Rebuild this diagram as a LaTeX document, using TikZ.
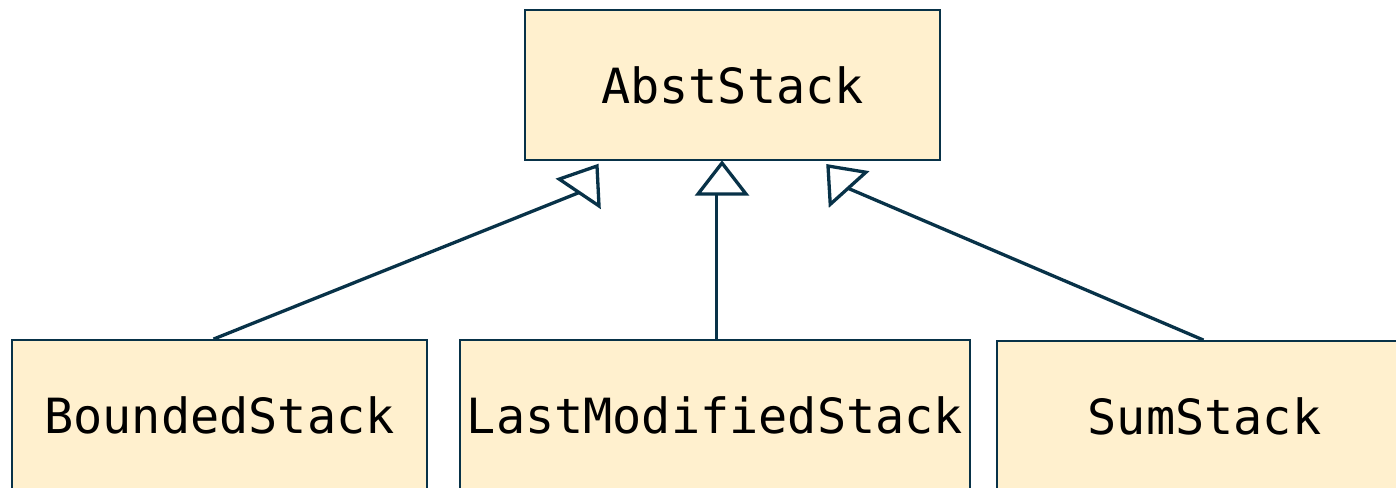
\documentclass[tikz,border=0pt]{standalone}
\usepackage{fontspec}
\setmonofont{DejaVu Sans Mono}
\usetikzlibrary{calc}
\definecolor{edge}{RGB}{8,50,72}
\definecolor{boxfill}{RGB}{255,240,206}
\begin{document}
\begin{tikzpicture}[x=1pt,y=1pt,
  cls/.style={draw=edge, line width=1.8pt, fill=boxfill, minimum height=150pt, inner sep=0pt,
    font=\ttfamily\fontsize{48.5}{52}\selectfont, text=black},
  conn/.style={draw=edge, line width=3.3pt},
  head/.style={draw=edge, fill=white, line width=3.3pt, line join=miter}]
\useasboundingbox (0,0) rectangle (1396,487);
\node[cls, minimum width=415pt] (abst) at (732.5,402) {AbstStack};
\node[cls, minimum width=415pt] (bounded) at (219.5,72) {BoundedStack};
\node[cls, minimum width=510pt] (lastmod) at (715,72) {LastModifiedStack};
\node[cls, minimum width=415pt] (sum) at (1204.5,71) {SumStack};
% arrow tips (apex) and base midpoints
\coordinate (tl) at (597,321);
\coordinate (bl) at ($(tl)+(236:32)$);
\coordinate (tm) at (722,324);
\coordinate (bm) at ($(tm)+(270:31)$);
\coordinate (tr) at (828,321);
\coordinate (br) at ($(tr)+(312:30)$);
% connector start points
\coordinate (sl) at ($(bounded.north)+(-6,0)$);
\coordinate (sm) at ($(lastmod.north)+(1.5,0)$);
\coordinate (sr) at ($(sum.north)+(-1,0)$);
% connectors
\draw[conn] (sl) -- (bl);
\draw[conn] (sm) -- (sm |- bm);
\draw[conn] (sr) -- (br);
% open triangle heads
\draw[head] (tl) -- ($(bl)+(146:24)$) -- ($(bl)+(326:24)$) -- cycle;
\draw[head] (tm) -- ($(bm)+(180:24)$) -- ($(bm)+(0:24)$) -- cycle;
\draw[head] (tr) -- ($(br)+(222:24)$) -- ($(br)+(42:24)$) -- cycle;
\end{tikzpicture}
\end{document}
